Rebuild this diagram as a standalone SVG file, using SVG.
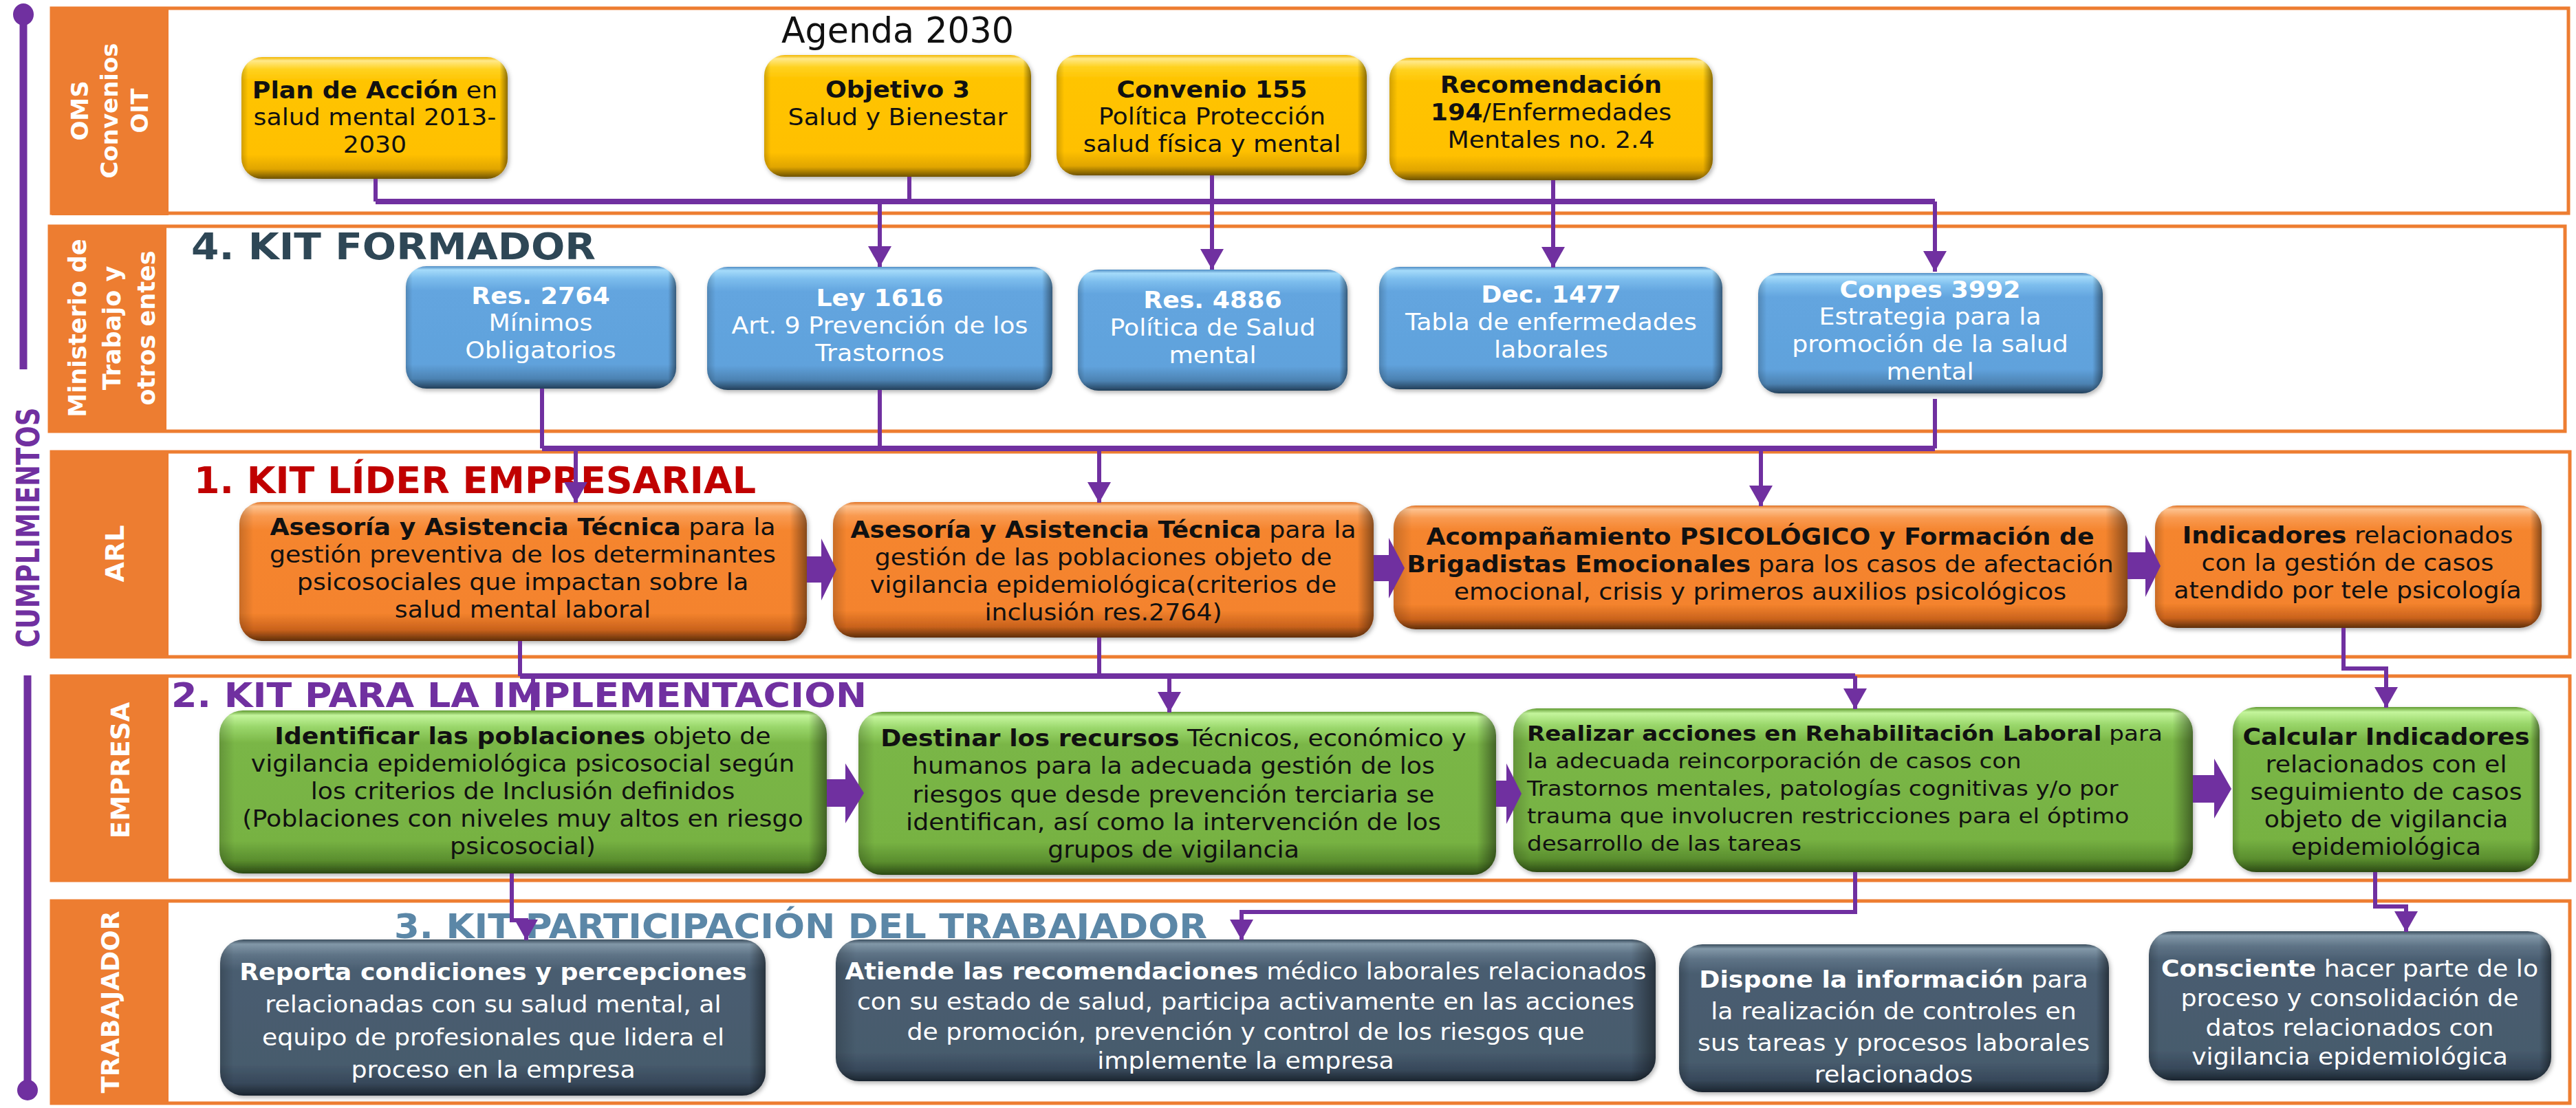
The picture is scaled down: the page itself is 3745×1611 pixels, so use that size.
<svg xmlns="http://www.w3.org/2000/svg" width="3745" height="1611" viewBox="0 0 3745 1611">
<style>
.band{fill:#fff;stroke:#ED7D31;stroke-width:5}
.lbl{fill:#ED7D31}
.lt{font-family:"DejaVu Sans",sans-serif;font-weight:bold;fill:#fff;text-anchor:middle}
.t{font-family:"DejaVu Sans",sans-serif;font-size:33px;text-anchor:middle}
.ts{font-family:"DejaVu Sans",sans-serif;font-size:31px;text-anchor:start}
.b{font-weight:bold}
.dk{fill:#111}
.wt{fill:#fff}
.ttl{font-family:"DejaVu Sans",sans-serif;font-weight:bold}
.cn{fill:none;stroke:#7030A0;stroke-width:6}
.bus{stroke-width:8}
.ba{fill:#7030A0}
.sh{fill:url(#gH)}
</style>
<defs>
<linearGradient id="gY" x1="0" y1="0" x2="0" y2="1">
<stop offset="0" stop-color="#F2B600"/><stop offset="0.03" stop-color="#FFE98A"/><stop offset="0.1" stop-color="#FFD21F"/><stop offset="0.2" stop-color="#FFC400"/><stop offset="0.8" stop-color="#FFC000"/><stop offset="0.92" stop-color="#E0A500"/><stop offset="1" stop-color="#6E5200"/>
</linearGradient>
<linearGradient id="gB" x1="0" y1="0" x2="0" y2="1">
<stop offset="0" stop-color="#4F8CC4"/><stop offset="0.03" stop-color="#A5DBFA"/><stop offset="0.1" stop-color="#7CBDED"/><stop offset="0.2" stop-color="#63A5DF"/><stop offset="0.8" stop-color="#60A2DC"/><stop offset="0.92" stop-color="#4C82B2"/><stop offset="1" stop-color="#23405A"/>
</linearGradient>
<linearGradient id="gO" x1="0" y1="0" x2="0" y2="1">
<stop offset="0" stop-color="#E07020"/><stop offset="0.03" stop-color="#FDC28F"/><stop offset="0.1" stop-color="#F99A50"/><stop offset="0.2" stop-color="#F5852F"/><stop offset="0.8" stop-color="#F4832D"/><stop offset="0.92" stop-color="#C9621C"/><stop offset="1" stop-color="#5E2E0A"/>
</linearGradient>
<linearGradient id="gG" x1="0" y1="0" x2="0" y2="1">
<stop offset="0" stop-color="#5F9A30"/><stop offset="0.03" stop-color="#C4F59C"/><stop offset="0.1" stop-color="#9AD76B"/><stop offset="0.2" stop-color="#7AB646"/><stop offset="0.8" stop-color="#77B243"/><stop offset="0.92" stop-color="#5A8E2E"/><stop offset="1" stop-color="#2C4A14"/>
</linearGradient>
<linearGradient id="gS" x1="0" y1="0" x2="0" y2="1">
<stop offset="0" stop-color="#3A4C5C"/><stop offset="0.03" stop-color="#8298A8"/><stop offset="0.1" stop-color="#5E7386"/><stop offset="0.2" stop-color="#495D70"/><stop offset="0.8" stop-color="#475B6D"/><stop offset="0.92" stop-color="#37485A"/><stop offset="1" stop-color="#1B252F"/>
</linearGradient>
<linearGradient id="gH" x1="0" y1="0" x2="1" y2="0">
<stop offset="0" stop-color="#000" stop-opacity="0.18"/><stop offset="0.025" stop-color="#000" stop-opacity="0"/><stop offset="0.97" stop-color="#000" stop-opacity="0"/><stop offset="1" stop-color="#000" stop-opacity="0.45"/>
</linearGradient>
<filter id="ds" x="-5%" y="-5%" width="110%" height="115%"><feDropShadow dx="2" dy="3" stdDeviation="3" flood-opacity="0.3"/></filter>
<marker id="ah" markerUnits="userSpaceOnUse" markerWidth="32" markerHeight="34" refX="30" refY="17" orient="auto"><path d="M0,0 L30,17 L0,34 Z" fill="#7030A0"/></marker>
</defs>

<!-- timeline -->
<g id="timeline">
<line x1="34" y1="21" x2="34" y2="537" stroke="#7030A0" stroke-width="11"/>
<ellipse cx="34" cy="21" rx="15" ry="16" fill="#7030A0"/>
<text class="ttl" font-size="46" fill="#7030A0" text-anchor="middle" textLength="349" lengthAdjust="spacingAndGlyphs" transform="translate(57,767) rotate(-90)">CUMPLIMIENTOS</text>
<line x1="40" y1="982" x2="40" y2="1585" stroke="#7030A0" stroke-width="11"/>
<ellipse cx="40" cy="1585" rx="15" ry="15" fill="#7030A0"/>
</g>

<!-- bands -->
<g id="band-oms">
<rect class="band" x="75" y="12" width="3659" height="298"/>
<rect class="lbl" x="75" y="10" width="170" height="303"/>
<text class="lt" font-size="34" transform="translate(128,161) rotate(-90)">OMS</text>
<text class="lt" font-size="34" transform="translate(171,161) rotate(-90)">Convenios</text>
<text class="lt" font-size="34" transform="translate(215,161) rotate(-90)">OIT</text>
<text font-family="DejaVu Sans, sans-serif" font-size="52" x="1136" y="62" textLength="338" lengthAdjust="spacingAndGlyphs" fill="#111">Agenda 2030</text>
</g>
<g id="band-ministerio">
<rect class="band" x="72" y="329" width="3657" height="298"/>
<rect class="lbl" x="72" y="327" width="170" height="302"/>
<text class="lt" font-size="35" transform="translate(125,477) rotate(-90)">Ministerio de</text>
<text class="lt" font-size="35" transform="translate(175,477) rotate(-90)">Trabajo y</text>
<text class="lt" font-size="35" transform="translate(225,477) rotate(-90)">otros entes</text>
<text class="ttl" font-size="53" x="278" y="377" fill="#2E4756" textLength="588" lengthAdjust="spacingAndGlyphs">4.  KIT  FORMADOR</text>
</g>
<g id="band-arl">
<rect class="band" x="75" y="657" width="3661" height="298"/>
<rect class="lbl" x="75" y="655" width="170" height="302"/>
<text class="lt" font-size="38" transform="translate(180,805) rotate(-90)">ARL</text>
<text class="ttl" font-size="54" x="282" y="717" fill="#C00000" textLength="817" lengthAdjust="spacingAndGlyphs">1. KIT LÍDER EMPRESARIAL</text>
</g>
<g id="band-empresa">
<rect class="band" x="75" y="983" width="3661" height="297"/>
<rect class="lbl" x="75" y="981" width="170" height="301"/>
<text class="lt" font-size="37" transform="translate(188,1120) rotate(-90)">EMPRESA</text>
<text class="ttl" font-size="50" x="249" y="1028" fill="#7030A0" textLength="1011" lengthAdjust="spacingAndGlyphs">2. KIT  PARA LA IMPLEMENTACION</text>
</g>
<g id="band-trabajador">
<rect class="band" x="75" y="1310" width="3661" height="294"/>
<rect class="lbl" x="75" y="1308" width="170" height="298"/>
<text class="lt" font-size="36" transform="translate(173,1457) rotate(-90)">TRABAJADOR</text>
<text class="ttl" font-size="49" x="573" y="1364" fill="#5B87A7" textLength="1182" lengthAdjust="spacingAndGlyphs">3.  KIT PARTICIPACIÓN DEL TRABAJADOR</text>
</g>

<!-- yellow nodes -->
<g id="n-plan">
<rect x="351" y="83" width="387" height="177" rx="30" fill="url(#gY)" filter="url(#ds)"/><rect class="sh" x="351" y="83" width="387" height="177" rx="30"/>
<g transform="translate(545,0) scale(1.1,1)">
<text class="t dk" x="0" y="143"><tspan class="b">Plan de Acción</tspan> en</text>
<text class="t dk" x="0" y="182">salud mental 2013-</text>
<text class="t dk" x="0" y="222">2030</text>
</g></g>
<g id="n-objetivo">
<rect x="1111" y="80" width="388" height="177" rx="30" fill="url(#gY)" filter="url(#ds)"/><rect class="sh" x="1111" y="80" width="388" height="177" rx="30"/>
<g transform="translate(1305,0) scale(1.1,1)">
<text class="t dk b" x="0" y="142">Objetivo 3</text>
<text class="t dk" x="0" y="182">Salud y Bienestar</text>
</g></g>
<g id="n-convenio">
<rect x="1536" y="80" width="451" height="175" rx="30" fill="url(#gY)" filter="url(#ds)"/><rect class="sh" x="1536" y="80" width="451" height="175" rx="30"/>
<g transform="translate(1762,0) scale(1.1,1)">
<text class="t dk b" x="0" y="142">Convenio 155</text>
<text class="t dk" x="0" y="181">Política Protección</text>
<text class="t dk" x="0" y="221">salud física y mental</text>
</g></g>
<g id="n-recomendacion">
<rect x="2020" y="84" width="470" height="178" rx="30" fill="url(#gY)" filter="url(#ds)"/><rect class="sh" x="2020" y="84" width="470" height="178" rx="30"/>
<g transform="translate(2255,0) scale(1.1,1)">
<text class="t dk b" x="0" y="135">Recomendación</text>
<text class="t dk" x="0" y="175"><tspan class="b">194</tspan>/Enfermedades</text>
<text class="t dk" x="0" y="215">Mentales no. 2.4</text>
</g></g>

<!-- blue nodes -->
<g id="n-res2764">
<rect x="590" y="387" width="393" height="178" rx="30" fill="url(#gB)" filter="url(#ds)"/><rect class="sh" x="590" y="387" width="393" height="178" rx="30"/>
<g transform="translate(786,0) scale(1.1,1)">
<text class="t wt b" x="0" y="442">Res. 2764</text>
<text class="t wt" x="0" y="481">Mínimos</text>
<text class="t wt" x="0" y="521">Obligatorios</text>
</g></g>
<g id="n-ley1616">
<rect x="1028" y="388" width="502" height="179" rx="30" fill="url(#gB)" filter="url(#ds)"/><rect class="sh" x="1028" y="388" width="502" height="179" rx="30"/>
<g transform="translate(1279,0) scale(1.1,1)">
<text class="t wt b" x="0" y="445">Ley 1616</text>
<text class="t wt" x="0" y="485">Art. 9 Prevención de los</text>
<text class="t wt" x="0" y="525">Trastornos</text>
</g></g>
<g id="n-res4886">
<rect x="1567" y="392" width="392" height="176" rx="30" fill="url(#gB)" filter="url(#ds)"/><rect class="sh" x="1567" y="392" width="392" height="176" rx="30"/>
<g transform="translate(1763,0) scale(1.1,1)">
<text class="t wt b" x="0" y="448">Res. 4886</text>
<text class="t wt" x="0" y="488">Política de Salud</text>
<text class="t wt" x="0" y="528">mental</text>
</g></g>
<g id="n-dec1477">
<rect x="2005" y="388" width="499" height="178" rx="30" fill="url(#gB)" filter="url(#ds)"/><rect class="sh" x="2005" y="388" width="499" height="178" rx="30"/>
<g transform="translate(2255,0) scale(1.1,1)">
<text class="t wt b" x="0" y="440">Dec. 1477</text>
<text class="t wt" x="0" y="480">Tabla de enfermedades</text>
<text class="t wt" x="0" y="520">laborales</text>
</g></g>
<g id="n-conpes">
<rect x="2556" y="397" width="501" height="175" rx="30" fill="url(#gB)" filter="url(#ds)"/><rect class="sh" x="2556" y="397" width="501" height="175" rx="30"/>
<g transform="translate(2806,0) scale(1.1,1)">
<text class="t wt b" x="0" y="433">Conpes 3992</text>
<text class="t wt" x="0" y="472">Estrategia para la</text>
<text class="t wt" x="0" y="512">promoción de la salud</text>
<text class="t wt" x="0" y="552">mental</text>
</g></g>

<!-- orange nodes -->
<g id="n-arl1">
<rect x="348" y="730" width="825" height="202" rx="32" fill="url(#gO)" filter="url(#ds)"/><rect class="sh" x="348" y="730" width="825" height="202" rx="32"/>
<g transform="translate(760,0) scale(1.1,1)">
<text class="t dk" x="0" y="778"><tspan class="b">Asesoría y Asistencia Técnica</tspan>  para la</text>
<text class="t dk" x="0" y="818">gestión preventiva de los determinantes</text>
<text class="t dk" x="0" y="858">psicosociales que impactan sobre la</text>
<text class="t dk" x="0" y="898">salud mental laboral</text>
</g></g>
<g id="n-arl2">
<rect x="1211" y="730" width="786" height="197" rx="32" fill="url(#gO)" filter="url(#ds)"/><rect class="sh" x="1211" y="730" width="786" height="197" rx="32"/>
<g transform="translate(1604,0) scale(1.1,1)">
<text class="t dk" x="0" y="782"><tspan class="b">Asesoría y Asistencia Técnica</tspan>  para la</text>
<text class="t dk" x="0" y="822">gestión de las poblaciones objeto de</text>
<text class="t dk" x="0" y="862">vigilancia epidemiológica(criterios de</text>
<text class="t dk" x="0" y="902">inclusión res.2764)</text>
</g></g>
<g id="n-arl3">
<rect x="2026" y="735" width="1067" height="180" rx="32" fill="url(#gO)" filter="url(#ds)"/><rect class="sh" x="2026" y="735" width="1067" height="180" rx="32"/>
<g transform="translate(2559,0) scale(1.1,1)">
<text class="t dk b" x="0" y="792">Acompañamiento PSICOLÓGICO y Formación de</text>
<text class="t dk" x="0" y="832"><tspan class="b">Brigadistas Emocionales</tspan> para los casos de afectación</text>
<text class="t dk" x="0" y="872">emocional, crisis y primeros auxilios psicológicos</text>
</g></g>
<g id="n-arl4">
<rect x="3133" y="735" width="562" height="178" rx="32" fill="url(#gO)" filter="url(#ds)"/><rect class="sh" x="3133" y="735" width="562" height="178" rx="32"/>
<g transform="translate(3413,0) scale(1.1,1)">
<text class="t dk" x="0" y="790"><tspan class="b">Indicadores</tspan> relacionados</text>
<text class="t dk" x="0" y="830">con la gestión de casos</text>
<text class="t dk" x="0" y="870">atendido por tele psicología</text>
</g></g>

<!-- green nodes -->
<g id="n-emp1">
<rect x="319" y="1033" width="883" height="237" rx="34" fill="url(#gG)" filter="url(#ds)"/><rect class="sh" x="319" y="1033" width="883" height="237" rx="34"/>
<g transform="translate(760,0) scale(1.1,1)">
<text class="t dk" x="0" y="1082"><tspan class="b">Identificar las poblaciones</tspan>  objeto de</text>
<text class="t dk" x="0" y="1122">vigilancia epidemiológica psicosocial según</text>
<text class="t dk" x="0" y="1162">los criterios de Inclusión definidos</text>
<text class="t dk" x="0" y="1202">(Poblaciones con niveles muy altos en riesgo</text>
<text class="t dk" x="0" y="1242">psicosocial)</text>
</g></g>
<g id="n-emp2">
<rect x="1248" y="1035" width="927" height="237" rx="34" fill="url(#gG)" filter="url(#ds)"/><rect class="sh" x="1248" y="1035" width="927" height="237" rx="34"/>
<g transform="translate(1706,0) scale(1.1,1)">
<text class="t dk" x="0" y="1085"><tspan class="b">Destinar los recursos</tspan> Técnicos, económico y</text>
<text class="t dk" x="0" y="1125">humanos  para la adecuada gestión de los</text>
<text class="t dk" x="0" y="1167">riesgos que desde prevención terciaria se</text>
<text class="t dk" x="0" y="1207">identifican, así como la intervención de los</text>
<text class="t dk" x="0" y="1247">grupos de vigilancia</text>
</g></g>
<g id="n-emp3">
<rect x="2200" y="1030" width="988" height="238" rx="34" fill="url(#gG)" filter="url(#ds)"/><rect class="sh" x="2200" y="1030" width="988" height="238" rx="34"/>
<g transform="translate(2220,0) scale(1.1,1)">
<text class="ts dk" x="0" y="1077"><tspan class="b">Realizar acciones en Rehabilitación Laboral</tspan> para</text>
<text class="ts dk" x="0" y="1117">la adecuada reincorporación de casos con</text>
<text class="ts dk" x="0" y="1157">Trastornos mentales, patologías cognitivas y/o por</text>
<text class="ts dk" x="0" y="1197">trauma que involucren restricciones para el óptimo</text>
<text class="ts dk" x="0" y="1237">desarrollo de las tareas</text>
</g></g>
<g id="n-emp4">
<rect x="3246" y="1028" width="446" height="240" rx="34" fill="url(#gG)" filter="url(#ds)"/><rect class="sh" x="3246" y="1028" width="446" height="240" rx="34"/>
<g transform="translate(3469,0) scale(1.1,1)">
<text class="t dk b" x="0" y="1083">Calcular Indicadores</text>
<text class="t dk" x="0" y="1123">relacionados con el</text>
<text class="t dk" x="0" y="1163">seguimiento de casos</text>
<text class="t dk" x="0" y="1203">objeto de vigilancia</text>
<text class="t dk" x="0" y="1243">epidemiológica</text>
</g></g>

<!-- slate nodes -->
<g id="n-trab1">
<rect x="320" y="1366" width="793" height="227" rx="34" fill="url(#gS)" filter="url(#ds)"/><rect class="sh" x="320" y="1366" width="793" height="227" rx="34"/>
<g transform="translate(717,0) scale(1.1,1)">
<text class="t wt b" x="0" y="1425">Reporta condiciones y percepciones</text>
<text class="t wt" x="0" y="1472">relacionadas con su salud mental,  al</text>
<text class="t wt" x="0" y="1520">equipo de profesionales que lidera el</text>
<text class="t wt" x="0" y="1567">proceso en la empresa</text>
</g></g>
<g id="n-trab2">
<rect x="1215" y="1366" width="1192" height="206" rx="34" fill="url(#gS)" filter="url(#ds)"/><rect class="sh" x="1215" y="1366" width="1192" height="206" rx="34"/>
<g transform="translate(1811,0) scale(1.1,1)">
<text class="t wt" x="0" y="1424" font-size="32"><tspan class="b">Atiende las recomendaciones</tspan> médico laborales relacionados</text>
<text class="t wt" x="0" y="1468" font-size="32">con su estado de salud, participa activamente en las acciones</text>
<text class="t wt" x="0" y="1512" font-size="32">de promoción, prevención y control de los riesgos que</text>
<text class="t wt" x="0" y="1554" font-size="32">implemente la empresa</text>
</g></g>
<g id="n-trab3">
<rect x="2441" y="1373" width="625" height="215" rx="34" fill="url(#gS)" filter="url(#ds)"/><rect class="sh" x="2441" y="1373" width="625" height="215" rx="34"/>
<g transform="translate(2753,0) scale(1.1,1)">
<text class="t wt" x="0" y="1436"><tspan class="b">Dispone la información</tspan> para</text>
<text class="t wt" x="0" y="1482">la realización de controles en</text>
<text class="t wt" x="0" y="1528">sus tareas y procesos laborales</text>
<text class="t wt" x="0" y="1574">relacionados</text>
</g></g>
<g id="n-trab4">
<rect x="3124" y="1354" width="585" height="217" rx="34" fill="url(#gS)" filter="url(#ds)"/><rect class="sh" x="3124" y="1354" width="585" height="217" rx="34"/>
<g transform="translate(3416,0) scale(1.1,1)">
<text class="t wt" x="0" y="1420"><tspan class="b">Consciente</tspan> hacer parte de lo</text>
<text class="t wt" x="0" y="1463">proceso y consolidación de</text>
<text class="t wt" x="0" y="1506">datos relacionados con</text>
<text class="t wt" x="0" y="1548">vigilancia epidemiológica</text>
</g></g>

<!-- connectors -->
<g id="connectors">
<path class="cn" d="M546,260 V293"/>
<path class="cn bus" d="M546,293 H2813"/>
<path class="cn" d="M2813,293 V395" marker-end="url(#ah)"/>
<path class="cn" d="M1322,257 V293"/>
<path class="cn" d="M1279,293 V388" marker-end="url(#ah)"/>
<path class="cn" d="M1762,255 V392" marker-end="url(#ah)"/>
<path class="cn" d="M2258,262 V389" marker-end="url(#ah)"/>

<path class="cn" d="M788,565 V652"/>
<path class="cn" d="M1279,567 V652"/>
<path class="cn" d="M2813,580 V652"/>
<path class="cn bus" d="M788,652 H2813"/>
<path class="cn" d="M837,652 V731" marker-end="url(#ah)"/>
<path class="cn" d="M1598,652 V731" marker-end="url(#ah)"/>
<path class="cn" d="M2560,652 V736" marker-end="url(#ah)"/>

<path class="cn" d="M756,932 V983"/>
<path class="cn" d="M1598,927 V983"/>
<path class="cn bus" d="M756,983 H2697"/>
<path class="cn" d="M775,983 V1033"/>
<path class="cn" d="M1700,983 V1036" marker-end="url(#ah)"/>
<path class="cn" d="M2697,983 V1031" marker-end="url(#ah)"/>
<path class="cn" d="M3407,913 V972 H3469 V1029" marker-end="url(#ah)"/>

<path class="cn" d="M744,1270 V1338 H765 V1367" marker-end="url(#ah)"/>
<path class="cn" d="M2697,1268 V1326 H1805 V1367" marker-end="url(#ah)"/>
<path class="cn" d="M3453,1268 V1318 H3498 V1355" marker-end="url(#ah)"/>

<polygon class="ba" points="1173,809 1194,809 1194,783 1216,828 1194,873 1194,847 1173,847"/>
<polygon class="ba" points="1997,807 2019,807 2019,782 2042,826 2019,870 2019,845 1997,845"/>
<polygon class="ba" points="3093,803 3119,803 3119,778 3141,823 3119,868 3119,842 3093,842"/>
<polygon class="ba" points="1202,1133 1229,1133 1229,1110 1256,1153 1229,1197 1229,1173 1202,1173"/>
<polygon class="ba" points="2175,1135 2190,1135 2190,1110 2212,1154 2190,1198 2190,1173 2175,1173"/>
<polygon class="ba" points="3188,1127 3219,1127 3219,1103 3244,1147 3219,1190 3219,1167 3188,1167"/>
</g>
</svg>
